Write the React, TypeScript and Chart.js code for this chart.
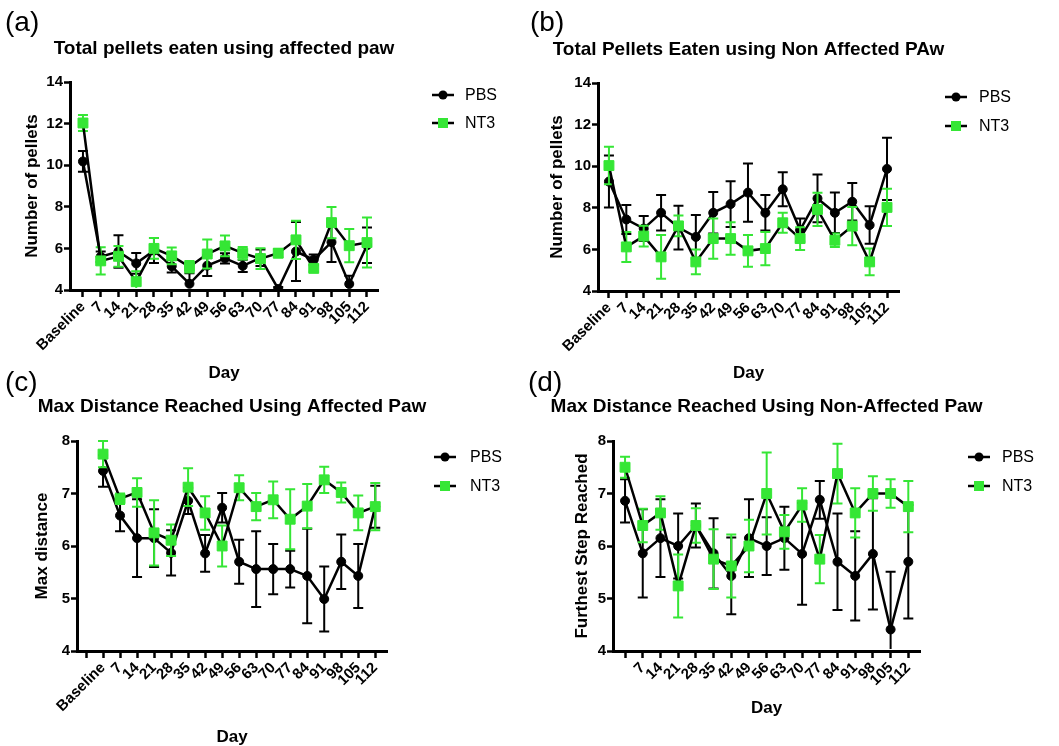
import React, { useEffect, useRef } from 'react';
import { Chart, registerables } from 'chart.js';

Chart.register(...registerables);

const W = 1059;
const H = 746;
const FONT = "'Liberation Sans', Arial, Helvetica, sans-serif";
const PBS_COLOR = '#000000';
const NT3_COLOR = '#35e635';

// ---- categories / tick labels ----
const dayLabels = ['Baseline', '7', '14', '21', '28', '35', '42', '49', '56', '63', '70', '77', '84', '91', '98', '105', '112'];
const dayTicksC = ['', ...dayLabels];
const dayTicksD = ['', '7', '14', '21', '28', '35', '42', '49', '56', '63', '70', '77', '84', '91', '98', '105', '112'];

// ---- (a) total pellets, affected paw ----
const pelletsAffPbs = [10.18, 5.6, 5.85, 5.28, 5.9, 5.14, 4.3, 5.17, 5.52, 5.16, 5.55, 4.05, 5.85, 5.46, 6.3, 4.29, 6.15];
const pelletsAffPbsErr = [0.5, 0.25, 0.78, 0.5, 0.6, 0.3, 0.5, 0.5, 0.25, 0.3, 0.4, 0.1, 1.42, 0.25, 0.95, 0.4, 0.85];
const pelletsAffNt3 = [12.03, 5.4, 5.62, 4.4, 6.0, 5.64, 5.12, 5.73, 6.12, 5.77, 5.51, 5.77, 6.41, 5.04, 7.24, 6.13, 6.28];
const pelletsAffNt3Err = [0.38, 0.65, 0.5, 0.5, 0.5, 0.4, 0.28, 0.7, 0.5, 0.3, 0.5, 0.2, 0.92, 0.15, 0.75, 0.8, 1.2];

// ---- (b) total pellets, non-affected paw ----
const pelletsNonPbs = [9.26, 7.44, 7.0, 7.76, 7.05, 6.6, 7.76, 8.18, 8.73, 7.76, 8.89, 6.93, 8.45, 7.76, 8.29, 7.17, 9.87];
const pelletsNonPbsErr = [1.25, 0.7, 0.6, 0.85, 1.05, 1.05, 1.0, 1.1, 1.4, 0.85, 0.82, 0.55, 1.15, 0.97, 0.9, 0.9, 1.5];
const pelletsNonNt3 = [10.03, 6.12, 6.64, 5.64, 7.13, 5.4, 6.52, 6.52, 5.93, 6.04, 7.28, 6.52, 7.92, 6.44, 7.12, 5.4, 8.02];
const pelletsNonNt3Err = [0.9, 0.72, 0.5, 1.05, 0.5, 0.6, 0.97, 0.78, 0.76, 0.8, 0.48, 0.55, 0.8, 0.33, 0.92, 0.64, 0.9];

// ---- (c) max distance, affected paw ----
const distAffPbs = [7.43, 6.58, 6.15, 6.15, 5.87, 6.86, 5.86, 6.73, 5.7, 5.56, 5.56, 5.56, 5.43, 4.99, 5.7, 5.43, 6.75];
const distAffPbsErr = [0.3, 0.3, 0.74, 0.55, 0.43, 0.25, 0.35, 0.28, 0.42, 0.72, 0.48, 0.35, 0.9, 0.62, 0.52, 0.61, 0.4];
const distAffNt3 = [7.75, 6.9, 7.02, 6.25, 6.11, 7.12, 6.63, 6.0, 7.11, 6.75, 6.88, 6.51, 6.76, 7.26, 7.02, 6.63, 6.75];
const distAffNt3Err = [0.25, 0.1, 0.27, 0.62, 0.3, 0.36, 0.32, 0.39, 0.24, 0.26, 0.35, 0.57, 0.42, 0.25, 0.19, 0.33, 0.45];

// ---- (d) furthest step, non-affected paw ----
const distNonPbs = [6.86, 5.86, 6.15, 6.0, 6.39, 5.86, 5.43, 6.15, 6.0, 6.15, 5.85, 6.88, 5.7, 5.43, 5.85, 4.41, 5.7];
const distNonPbsErr = [0.41, 0.84, 0.74, 0.62, 0.42, 0.67, 0.73, 0.74, 0.55, 0.6, 0.97, 0.36, 0.92, 0.85, 1.06, 1.1, 1.08];
const distNonNt3 = [7.5, 6.39, 6.63, 5.24, 6.39, 5.75, 5.62, 6.0, 7.0, 6.27, 6.78, 5.75, 7.38, 6.63, 7.0, 7.0, 6.75];
const distNonNt3Err = [0.2, 0.32, 0.32, 0.6, 0.33, 0.57, 0.6, 0.5, 0.78, 0.32, 0.32, 0.46, 0.57, 0.47, 0.33, 0.27, 0.49];

type Area = { left: number; top: number; right: number; bottom: number };

type PanelSpec = {
  letter: string;
  title: string;
  yTitle: string;
  ticks: string[];
  xShift: number;
  xMin: number;
  xMax: number;
  yMin: number;
  yMax: number;
  yStep: number;
  pbs: number[];
  pbsErr: number[];
  nt3: number[];
  nt3Err: number[];
  area: Area;
  letterPos: [number, number];
  titleY: number;
  dayY: number;
  yTitleX: number;
  legend: { lineX: number; textX: number; y1: number; y2: number };
};

const panels: PanelSpec[] = [
  {
    letter: '(a)', title: 'Total pellets eaten using affected paw', yTitle: 'Number of pellets',
    ticks: dayLabels, xShift: 0, xMin: -0.73, xMax: 16.62, yMin: 4, yMax: 14, yStep: 2,
    pbs: pelletsAffPbs, pbsErr: pelletsAffPbsErr, nt3: pelletsAffNt3, nt3Err: pelletsAffNt3Err,
    area: { left: 70, top: 82, right: 378, bottom: 290 },
    letterPos: [5, 23], titleY: 49, dayY: 373, yTitleX: 32,
    legend: { lineX: 432, textX: 465, y1: 95, y2: 123 },
  },
  {
    letter: '(b)', title: 'Total Pellets Eaten using Non Affected PAw', yTitle: 'Number of pellets',
    ticks: dayLabels, xShift: 0, xMin: -0.63, xMax: 16.69, yMin: 4, yMax: 14, yStep: 2,
    pbs: pelletsNonPbs, pbsErr: pelletsNonPbsErr, nt3: pelletsNonNt3, nt3Err: pelletsNonNt3Err,
    area: { left: 598, top: 83, right: 899, bottom: 291 },
    letterPos: [530, 23], titleY: 50, dayY: 373, yTitleX: 557,
    legend: { lineX: 945, textX: 979, y1: 97, y2: 126 },
  },
  {
    letter: '(c)', title: 'Max Distance Reached Using Affected Paw', yTitle: 'Max distance',
    ticks: dayTicksC, xShift: 1, xMin: -0.53, xMax: 17.69, yMin: 4, yMax: 8, yStep: 1,
    pbs: distAffPbs, pbsErr: distAffPbsErr, nt3: distAffNt3, nt3Err: distAffNt3Err,
    area: { left: 77, top: 441, right: 387, bottom: 651 },
    letterPos: [5, 383], titleY: 407, dayY: 737, yTitleX: 42,
    legend: { lineX: 434, textX: 470, y1: 457, y2: 486 },
  },
  {
    letter: '(d)', title: 'Max Distance Reached Using Non-Affected Paw', yTitle: 'Furthest Step Reached',
    ticks: dayTicksD, xShift: 0, xMin: -0.68, xMax: 16.66, yMin: 4, yMax: 8, yStep: 1,
    pbs: distNonPbs, pbsErr: distNonPbsErr, nt3: distNonNt3, nt3Err: distNonNt3Err,
    area: { left: 613, top: 441, right: 920, bottom: 651 },
    letterPos: [528, 383], titleY: 407, dayY: 708, yTitleX: 582,
    legend: { lineX: 968, textX: 1002, y1: 457, y2: 486 },
  },
];

const Y_AXIS_W = 44;
const X_AXIS_H = 70;

// Error bars (drawn under each dataset's markers) plus titles, axis titles and legend.
const panelDecor = {
  id: 'panelDecor',
  beforeDatasetDraw(chart: any, args: any) {
    const ds = chart.data.datasets[args.index];
    const errs: number[] | undefined = ds.errors;
    if (!errs) return;
    const { ctx, chartArea } = chart;
    const xs = chart.scales.x;
    const ys = chart.scales.y;
    ctx.save();
    ctx.beginPath();
    ctx.rect(chartArea.left - 10, chartArea.top - 12, chartArea.right - chartArea.left + 20, chartArea.bottom - chartArea.top + 10);
    ctx.clip();
    ctx.strokeStyle = ds.errorColor;
    ctx.lineWidth = 2;
    ctx.lineCap = 'butt';
    ds.data.forEach((p: { x: number; y: number }, i: number) => {
      const e = errs[i];
      if (p == null || e == null) return;
      const x = xs.getPixelForValue(p.x);
      const yT = ys.getPixelForValue(p.y + e);
      const yB = ys.getPixelForValue(p.y - e);
      const cap = 5;
      ctx.beginPath();
      ctx.moveTo(x, yT);
      ctx.lineTo(x, yB);
      ctx.moveTo(x - cap, yT);
      ctx.lineTo(x + cap, yT);
      if (yB < chartArea.bottom - 1) {
        ctx.moveTo(x - cap, yB);
        ctx.lineTo(x + cap, yB);
      }
      ctx.stroke();
    });
    ctx.restore();
  },
  afterDraw(chart: any, _args: any, opts: any) {
    const spec: PanelSpec = opts.spec;
    const { ctx, chartArea } = chart;
    const cx = (chartArea.left + chartArea.right) / 2;
    const cy = (chartArea.top + chartArea.bottom) / 2;
    ctx.save();
    ctx.fillStyle = '#000';
    ctx.textBaseline = 'middle';

    ctx.font = `28px ${FONT}`;
    ctx.textAlign = 'left';
    ctx.fillText(spec.letter, spec.letterPos[0], spec.letterPos[1]);

    ctx.font = `bold 19px ${FONT}`;
    ctx.textAlign = 'center';
    ctx.fillText(spec.title, cx, spec.titleY);

    ctx.font = `bold 17px ${FONT}`;
    ctx.fillText('Day', cx, spec.dayY);

    ctx.save();
    ctx.translate(spec.yTitleX, cy);
    ctx.rotate(-Math.PI / 2);
    ctx.fillText(spec.yTitle, 0, 0);
    ctx.restore();

    // legend
    const lg = spec.legend;
    chart.data.datasets.forEach((ds: any, i: number) => {
      const y = i === 0 ? lg.y1 : lg.y2;
      ctx.strokeStyle = '#000';
      ctx.lineWidth = 2.5;
      ctx.beginPath();
      ctx.moveTo(lg.lineX, y);
      ctx.lineTo(lg.lineX + 22, y);
      ctx.stroke();
      const mx = lg.lineX + 11;
      ctx.fillStyle = ds.pointBackgroundColor;
      if (ds.pointStyle === 'rect') {
        ctx.fillRect(mx - 5, y - 5, 10, 10);
      } else {
        ctx.beginPath();
        ctx.arc(mx, y, 4.5, 0, Math.PI * 2);
        ctx.fill();
      }
      ctx.fillStyle = '#000';
      ctx.font = `16px ${FONT}`;
      ctx.textAlign = 'left';
      ctx.fillText(ds.label, lg.textX, y + 1);
    });
    ctx.restore();
  },
};

function buildConfig(spec: PanelSpec): any {
  const toPoints = (vals: number[]) => vals.map((v, i) => ({ x: i + spec.xShift, y: v }));
  const tickFont = { family: FONT, size: 15, weight: 'bold' as const };
  return {
    type: 'line',
    data: {
      datasets: [
        {
          label: 'PBS',
          data: toPoints(spec.pbs),
          errors: spec.pbsErr,
          errorColor: PBS_COLOR,
          borderColor: '#000',
          borderWidth: 2.5,
          pointStyle: 'circle',
          pointRadius: 4.5,
          pointBackgroundColor: PBS_COLOR,
          pointBorderColor: PBS_COLOR,
          pointBorderWidth: 1,
          tension: 0,
          order: 1,
        },
        {
          label: 'NT3',
          data: toPoints(spec.nt3),
          errors: spec.nt3Err,
          errorColor: NT3_COLOR,
          borderColor: '#000',
          borderWidth: 2.5,
          pointStyle: 'rect',
          pointRadius: 7,
          pointBackgroundColor: NT3_COLOR,
          pointBorderColor: NT3_COLOR,
          pointBorderWidth: 1,
          tension: 0,
          order: 0,
        },
      ],
    },
    options: {
      animation: false,
      responsive: false,
      events: [],
      layout: {
        padding: {
          left: spec.area.left - Y_AXIS_W,
          top: spec.area.top,
          right: W - spec.area.right,
          bottom: H - spec.area.bottom - X_AXIS_H,
        },
      },
      plugins: {
        legend: { display: false },
        title: { display: false },
        tooltip: { enabled: false },
        panelDecor: { spec },
      },
      scales: {
        x: {
          type: 'linear',
          min: spec.xMin,
          max: spec.xMax,
          afterBuildTicks: (s: any) => {
            s.ticks = spec.ticks.map((_, i) => ({ value: i }));
          },
          afterFit: (s: any) => {
            s.height = X_AXIS_H;
            s.paddingLeft = 0;
            s.paddingRight = 0;
          },
          ticks: {
            autoSkip: false,
            minRotation: 45,
            maxRotation: 45,
            padding: 1,
            color: '#000',
            font: tickFont,
            callback: (v: number) => spec.ticks[v] ?? '',
          },
          grid: { drawOnChartArea: false, drawTicks: true, tickLength: 7, tickWidth: 2.5, tickColor: '#000' },
          border: { display: true, width: 3, color: '#000' },
        },
        y: {
          type: 'linear',
          min: spec.yMin,
          max: spec.yMax,
          afterFit: (s: any) => {
            s.width = Y_AXIS_W;
            s.paddingTop = 0;
            s.paddingBottom = 0;
          },
          ticks: { stepSize: spec.yStep, padding: 1, color: '#000', font: tickFont },
          grid: { drawOnChartArea: false, drawTicks: true, tickLength: 6, tickWidth: 2.5, tickColor: '#000' },
          border: { display: true, width: 3, color: '#000' },
        },
      },
    },
    plugins: [panelDecor],
  };
}

function Panel({ spec }: { spec: PanelSpec }) {
  const ref = useRef<HTMLCanvasElement>(null);
  useEffect(() => {
    if (!ref.current) return;
    const chart = new Chart(ref.current, buildConfig(spec));
    return () => chart.destroy();
  }, [spec]);
  return (
    <canvas
      ref={ref}
      width={W}
      height={H}
      style={{ position: 'absolute', left: 0, top: 0, width: W, height: H }}
    />
  );
}

export default function App() {
  return (
    <div style={{ position: 'absolute', left: 0, top: 0, width: W, height: H, background: '#fff', overflow: 'hidden' }}>
      {panels.map((p) => (
        <Panel key={p.letter} spec={p} />
      ))}
    </div>
  );
}
